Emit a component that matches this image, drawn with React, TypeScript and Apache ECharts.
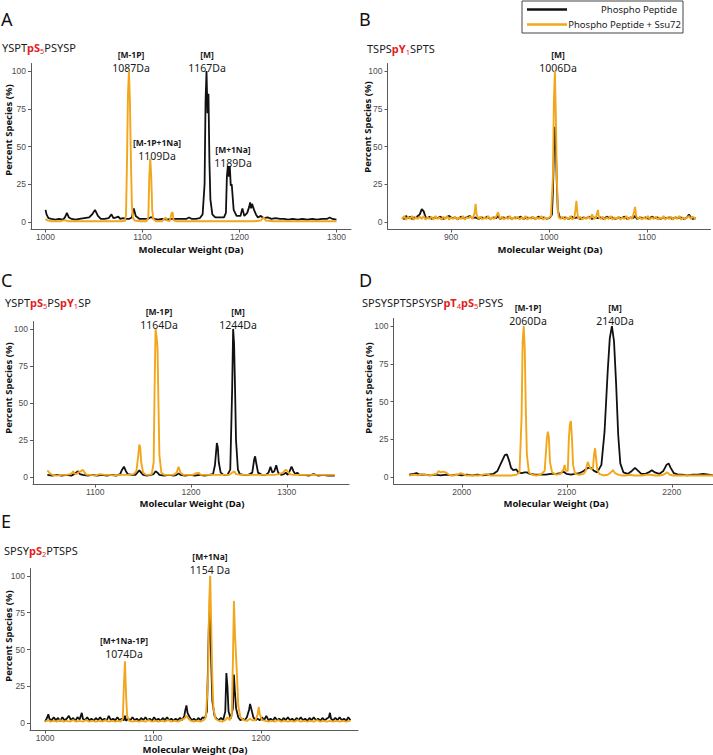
import React, { useEffect, useRef } from 'react';
import * as echarts from 'echarts';

// ---------- tick labels ----------
const aTicks = [1000, 1100, 1200, 1300];
const bTicks = [900, 1000, 1100];
const cTicks = [1100, 1200, 1300];
const dTicks = [2000, 2100, 2200];
const eTicks = [1000, 1100, 1200];
const yTicks = [0, 25, 50, 75, 100];

const legendNames = ['Phospho Peptide', 'Phospho Peptide + Ssu72'];

// ---------- Panel A: YSPTpS5PSYSP ----------
const aBlack = [
  [1000, 8], [1001, 5], [1003, 2.5], [1006, 2], [1010, 1.5], [1014, 2], [1018, 1.5], [1020, 3], [1022, 6], [1024, 3],
  [1027, 2], [1031, 1.5], [1035, 2], [1040, 2.5], [1045, 3], [1048, 5], [1051, 8], [1054, 4], [1057, 2], [1061, 2],
  [1065, 2.5], [1068, 5], [1070, 2.5], [1073, 3], [1075, 3.5], [1077, 2], [1080, 2.5], [1083, 2], [1086, 2], [1089, 3],
  [1091, 9], [1093, 4], [1097, 2], [1101, 2], [1105, 2], [1108, 3], [1110, 3], [1112, 2], [1116, 1.5], [1120, 2],
  [1125, 1.5], [1130, 2], [1135, 2], [1140, 2], [1145, 2], [1148, 3], [1151, 2], [1155, 2], [1159, 2.5], [1162, 5],
  [1164, 25], [1165, 80], [1166, 100], [1167, 72], [1168, 85], [1169, 40], [1170, 15], [1172, 5], [1175, 3], [1180, 3],
  [1184, 3], [1186, 6], [1187, 30], [1188, 37], [1189, 30], [1190, 37], [1191, 24], [1192, 25], [1194, 8], [1197, 4],
  [1201, 4], [1203, 9], [1205, 4], [1208, 6], [1210, 10], [1211, 13], [1212, 9], [1213, 12], [1215, 8], [1217, 5],
  [1219, 3], [1222, 4], [1225, 2.5], [1229, 3], [1233, 2], [1237, 2.5], [1242, 2], [1246, 2], [1250, 1.5], [1255, 2],
  [1260, 1.5], [1265, 2], [1270, 1.5], [1275, 2], [1280, 1.5], [1285, 2], [1290, 2], [1293, 3], [1296, 2], [1300, 1.5],
];
const aOrange = [
  [1000, 2], [1002, 1], [1005, 0.5], [1010, 0.5], [1015, 0.5], [1020, 1.2], [1023, 0.5], [1030, 0.5], [1040, 0.5], [1050, 0.5],
  [1060, 0.5], [1070, 0.5], [1078, 0.5], [1082, 0.8], [1083, 5], [1084, 40], [1085, 85], [1086, 100], [1087, 80], [1088, 42],
  [1089, 12], [1090, 3], [1092, 1], [1098, 0.5], [1104, 0.5], [1106, 3], [1107, 30], [1108, 42], [1109, 30], [1110, 8],
  [1111, 2], [1114, 0.5], [1120, 0.5], [1124, 3], [1125, 1], [1128, 0.5], [1130, 6], [1131, 6.5], [1132, 1], [1135, 0.5],
  [1145, 0.5], [1155, 0.5], [1165, 0.5], [1175, 0.5], [1185, 0.5], [1195, 0.5], [1205, 0.5], [1215, 0.5], [1222, 1], [1225, 3],
  [1227, 1], [1235, 0.5], [1245, 0.5], [1255, 0.5], [1265, 0.5], [1275, 0.5], [1285, 0.5], [1295, 0.5], [1300, 0.5],
];

// ---------- Panel B: TSPSpY1SPTS ----------
const bBlack = [
  [850, 3], [852, 2], [854, 4], [856, 2.5], [858, 3.5], [860, 2], [862, 3], [864, 2.5], [866, 4], [868, 5],
  [870, 8.5], [872, 7], [874, 3], [876, 2.5], [878, 3.5], [880, 2], [883, 3], [886, 2.5], [889, 3.5], [892, 2],
  [895, 3], [898, 4], [901, 2.5], [904, 3], [907, 2], [910, 3.5], [913, 2.5], [916, 3], [919, 4], [922, 2.5],
  [925, 3], [928, 2], [931, 3], [934, 2.5], [937, 3.5], [940, 2], [943, 3], [946, 2.5], [948, 4], [950, 2],
  [953, 3], [956, 2.5], [959, 3.5], [962, 2], [965, 3], [968, 2.5], [971, 3.5], [974, 2], [977, 3], [980, 2.5],
  [983, 3], [986, 2], [989, 3.5], [992, 2.5], [995, 3], [998, 2], [1001, 3], [1003, 5], [1004, 20], [1005, 45],
  [1006, 63], [1007, 50], [1008, 25], [1009, 8], [1011, 3], [1014, 2.5], [1017, 3], [1020, 2], [1023, 3.5], [1026, 2.5],
  [1029, 3], [1032, 2], [1035, 3], [1038, 2.5], [1041, 3.5], [1044, 2], [1047, 3], [1050, 2.5], [1053, 3], [1056, 2],
  [1059, 3.5], [1062, 2.5], [1065, 3], [1068, 2], [1071, 3], [1074, 2.5], [1077, 3.5], [1080, 2], [1083, 3], [1086, 2.5],
  [1088, 4], [1090, 2], [1093, 3], [1096, 2.5], [1099, 3], [1102, 2], [1105, 3.5], [1108, 2.5], [1111, 3], [1114, 2],
  [1117, 3], [1120, 2.5], [1123, 3], [1126, 2], [1129, 3], [1132, 2.5], [1135, 3], [1138, 2], [1141, 3], [1143, 5],
  [1145, 3], [1147, 2], [1150, 2.5],
];
const bOrange = [
  [850, 2], [852, 4], [854, 1.5], [856, 3.5], [858, 2], [860, 4], [862, 1.5], [864, 3], [866, 2], [868, 3.5],
  [870, 2], [872, 4], [874, 1.5], [876, 3], [878, 2], [880, 3.5], [882, 1.5], [884, 4], [886, 2], [888, 3],
  [890, 1.5], [892, 3.5], [894, 2], [896, 4], [898, 1.5], [900, 3], [902, 2], [904, 3.5], [906, 1.5], [908, 3],
  [910, 2], [912, 4], [914, 1.5], [916, 3], [918, 2.5], [920, 4], [922, 2], [924, 6], [925, 12], [926, 5],
  [928, 2], [930, 3.5], [932, 1.5], [934, 3], [936, 2], [938, 4], [940, 1.5], [942, 3], [944, 2], [946, 3.5],
  [948, 6.5], [950, 2], [952, 3.5], [954, 1.5], [956, 3], [958, 2], [960, 4], [962, 1.5], [964, 3], [966, 2],
  [968, 3.5], [970, 1.5], [972, 3], [974, 2], [976, 4], [978, 1.5], [980, 3], [982, 2], [984, 3.5], [986, 1.5],
  [988, 3], [990, 2], [992, 4], [994, 1.5], [996, 3], [998, 2], [1000, 3], [1002, 4], [1004, 30], [1005, 80],
  [1006, 100], [1007, 70], [1008, 30], [1009, 8], [1010, 3], [1012, 2], [1014, 3.5], [1016, 1.5], [1018, 3], [1020, 2],
  [1022, 4], [1024, 1.5], [1026, 3], [1027, 8], [1028, 14], [1029, 6], [1030, 2], [1032, 3.5], [1034, 1.5], [1036, 3],
  [1038, 2], [1040, 3.5], [1042, 2], [1044, 5], [1046, 2], [1048, 3], [1050, 8], [1051, 3], [1053, 2], [1055, 3.5],
  [1057, 1.5], [1059, 3], [1061, 2], [1063, 4], [1065, 1.5], [1067, 3], [1069, 2], [1071, 3.5], [1073, 1.5], [1075, 3],
  [1077, 2], [1079, 4], [1081, 1.5], [1083, 3], [1085, 2], [1087, 7], [1088, 10], [1089, 4], [1091, 2], [1093, 3.5],
  [1095, 1.5], [1097, 3], [1099, 2], [1101, 4], [1103, 1.5], [1105, 3], [1107, 2], [1109, 3.5], [1111, 1.5], [1113, 3],
  [1115, 2], [1117, 4], [1119, 1.5], [1121, 3], [1123, 2], [1125, 3.5], [1127, 1.5], [1129, 3], [1131, 2], [1133, 4],
  [1135, 1.5], [1137, 3], [1139, 2], [1141, 3], [1143, 4], [1145, 2], [1147, 3.5], [1150, 2],
];

// ---------- Panel C: YSPTpS5PSpY1SP ----------
const cBlack = [
  [1050, 1.5], [1055, 1], [1060, 1.5], [1065, 1], [1070, 1.5], [1075, 1], [1078, 2], [1080, 3], [1082, 4], [1084, 2],
  [1087, 1.5], [1092, 1], [1097, 1.5], [1102, 1], [1107, 1.5], [1112, 1], [1117, 1.5], [1122, 1], [1126, 2], [1128, 5],
  [1130, 7], [1132, 4], [1134, 2], [1138, 1.5], [1142, 1.5], [1144, 3], [1146, 4.5], [1148, 3], [1150, 1.5], [1154, 1],
  [1158, 1.5], [1161, 2], [1163, 4], [1165, 3], [1167, 1.5], [1172, 1], [1177, 1.5], [1182, 1], [1185, 1.5], [1187, 2.5],
  [1189, 1.5], [1194, 1], [1199, 1.5], [1204, 1], [1209, 1.5], [1214, 1], [1219, 1.5], [1223, 2], [1225, 8], [1227, 23],
  [1228, 20], [1229, 10], [1231, 3], [1234, 1.5], [1238, 1.5], [1241, 5], [1243, 60], [1244, 100], [1245, 90], [1246, 60],
  [1247, 25], [1249, 5], [1251, 2], [1255, 1.5], [1260, 1.5], [1264, 3], [1266, 12], [1267, 14], [1268, 10], [1270, 3],
  [1274, 1.5], [1278, 1.5], [1281, 3], [1283, 7], [1285, 3], [1287, 4], [1289, 8], [1291, 3], [1294, 1.5], [1297, 2],
  [1299, 3], [1301, 1.5], [1303, 4], [1305, 7], [1307, 4], [1309, 2], [1311, 3], [1313, 1.5], [1318, 1.5], [1323, 1],
  [1328, 2], [1333, 1], [1338, 1.5], [1343, 1], [1350, 1],
];
const cOrange = [
  [1050, 4.5], [1052, 3], [1055, 1.5], [1060, 1], [1065, 1.5], [1070, 1.5], [1074, 2], [1076, 3], [1077, 4], [1078, 2.5],
  [1080, 2], [1082, 3], [1085, 4], [1087, 5], [1089, 3], [1091, 1.5], [1095, 1.5], [1100, 1], [1105, 2], [1110, 1.5],
  [1115, 1.5], [1120, 1], [1125, 1.5], [1130, 1.5], [1135, 1.5], [1140, 2], [1143, 4], [1145, 15], [1146, 22], [1147, 20],
  [1148, 10], [1150, 3], [1153, 1.5], [1156, 1.5], [1159, 2], [1161, 10], [1162, 60], [1163, 100], [1164, 95], [1165, 88],
  [1166, 50], [1167, 15], [1169, 3], [1172, 1.5], [1177, 1.5], [1182, 1.5], [1185, 3], [1187, 7], [1189, 3], [1192, 1.5],
  [1197, 1.5], [1202, 1.5], [1205, 2.5], [1208, 3], [1210, 1.5], [1215, 1.5], [1220, 1.5], [1225, 1.5], [1230, 1.5], [1235, 1.5],
  [1240, 1.5], [1243, 3], [1245, 4], [1247, 2], [1252, 1.5], [1257, 1.5], [1262, 1.5], [1267, 1.5], [1272, 1.5], [1277, 1.5],
  [1282, 1.5], [1287, 1.5], [1292, 2], [1296, 3], [1299, 5], [1301, 4], [1303, 2], [1307, 1.5], [1312, 1.5], [1317, 1.5],
  [1322, 1.5], [1327, 1.5], [1332, 1.5], [1337, 1.5], [1342, 1.5], [1350, 1.5],
];

// ---------- Panel D: SPSYSPTSPSYSPpT4pS5PSYS ----------
const dBlack = [
  [1950, 1.5], [1954, 2], [1957, 2.5], [1960, 1.5], [1965, 1.5], [1970, 1], [1975, 1.5], [1980, 1], [1985, 1.5], [1990, 1],
  [1995, 1.5], [2000, 1], [2005, 1.5], [2010, 1], [2015, 1.5], [2020, 1], [2025, 1.5], [2030, 2], [2034, 4], [2038, 10],
  [2041, 14.5], [2043, 15], [2045, 11], [2047, 6], [2049, 4.5], [2052, 5], [2054, 3], [2057, 2.5], [2060, 3], [2062, 3],
  [2065, 2], [2070, 1.5], [2075, 1.5], [2080, 1.5], [2085, 2], [2090, 2], [2094, 2.5], [2097, 3.5], [2100, 2], [2104, 1.5],
  [2108, 2], [2112, 2.5], [2116, 4], [2120, 6], [2123, 6], [2126, 4], [2129, 3], [2133, 8], [2136, 30], [2139, 70],
  [2141, 92], [2143, 100], [2145, 90], [2147, 62], [2149, 28], [2151, 9], [2154, 3], [2158, 2], [2162, 4], [2165, 6],
  [2168, 4], [2171, 2], [2175, 2], [2178, 3], [2181, 4.5], [2184, 3], [2188, 2], [2192, 4], [2195, 8], [2197, 9],
  [2199, 6], [2202, 2.5], [2206, 1.5], [2210, 1.5], [2215, 1], [2220, 1.5], [2225, 1.5], [2230, 2], [2235, 1.5], [2240, 1],
  [2245, 1.5], [2250, 1],
];
const dOrange = [
  [1950, 1], [1955, 1.5], [1958, 1], [1962, 2], [1965, 1.5], [1968, 1], [1972, 1.5], [1976, 2], [1978, 4], [1980, 3],
  [1982, 3.5], [1985, 3], [1988, 1.5], [1992, 1], [1996, 1.5], [1999, 2.5], [2001, 2], [2004, 1], [2008, 1], [2012, 1],
  [2016, 1], [2020, 1.5], [2024, 2], [2027, 1], [2032, 1], [2037, 1], [2042, 1], [2047, 1], [2052, 1.5], [2055, 3],
  [2057, 40], [2058, 90], [2059, 100], [2060, 85], [2061, 45], [2062, 15], [2064, 3], [2067, 1.5], [2071, 1], [2075, 1.5],
  [2079, 4], [2081, 25], [2082, 30], [2083, 26], [2084, 10], [2086, 3], [2090, 1.5], [2094, 2], [2097, 5], [2098, 8],
  [2099, 4], [2101, 4], [2102, 25], [2103, 35], [2104, 37], [2105, 25], [2106, 8], [2108, 2], [2112, 1.5], [2116, 2],
  [2118, 4], [2120, 10], [2121, 8], [2123, 5], [2125, 6], [2126, 15], [2127, 19], [2128, 12], [2129, 5], [2131, 2],
  [2135, 1], [2139, 1.5], [2142, 3], [2144, 4.5], [2146, 2.5], [2149, 1.5], [2152, 1], [2156, 1], [2160, 1.5], [2164, 1],
  [2168, 1], [2172, 1], [2176, 1.5], [2180, 1.5], [2184, 1], [2188, 1], [2192, 1.5], [2196, 3], [2198, 1.5], [2202, 1],
  [2206, 1], [2210, 1], [2215, 1], [2220, 1], [2225, 1], [2230, 1], [2235, 1], [2240, 1], [2245, 1], [2250, 1],
];

// ---------- Panel E: SPSYpS2PTSPS ----------
const eBlack = [
  [1000, 1], [1002, 4], [1003, 6], [1004, 3], [1006, 2], [1008, 4], [1010, 2], [1012, 3.5], [1014, 1.5], [1016, 4],
  [1018, 2], [1020, 3], [1022, 5], [1024, 2], [1026, 3.5], [1028, 1.5], [1030, 4], [1032, 2.5], [1034, 7], [1035, 3],
  [1037, 2], [1039, 4], [1041, 2], [1043, 3], [1045, 1.5], [1047, 3.5], [1049, 2], [1051, 4], [1053, 2], [1055, 3],
  [1057, 1.5], [1059, 5], [1061, 2], [1063, 3], [1065, 2], [1067, 4], [1069, 2], [1071, 3], [1073, 2], [1074, 5],
  [1075, 1.5], [1077, 3], [1079, 2], [1081, 4], [1083, 2], [1085, 3], [1087, 1.5], [1089, 3.5], [1091, 2], [1093, 4],
  [1095, 2], [1097, 3], [1099, 1.5], [1101, 4], [1103, 2], [1105, 3], [1107, 1.5], [1109, 3.5], [1111, 2], [1113, 4],
  [1115, 2], [1117, 3], [1119, 1.5], [1121, 3], [1123, 2], [1125, 3.5], [1127, 2], [1129, 5], [1130, 9], [1131, 12],
  [1132, 7], [1134, 4], [1136, 2], [1138, 3], [1140, 1.5], [1142, 3.5], [1144, 2], [1146, 4], [1148, 3], [1150, 8],
  [1151, 40], [1152, 75], [1153, 70], [1154, 40], [1155, 15], [1157, 5], [1159, 3], [1161, 2], [1163, 3.5], [1165, 2],
  [1167, 8], [1168, 34], [1169, 25], [1170, 8], [1172, 3], [1174, 10], [1175, 33], [1176, 20], [1177, 10], [1179, 4],
  [1181, 2], [1183, 3], [1185, 2], [1187, 4], [1189, 9], [1190, 13], [1191, 10], [1193, 4], [1195, 2], [1197, 3],
  [1199, 2], [1201, 4], [1203, 2], [1205, 5], [1207, 2], [1209, 3], [1211, 1.5], [1213, 4], [1215, 2], [1217, 3],
  [1219, 1.5], [1221, 3.5], [1223, 2], [1225, 4], [1227, 2], [1229, 3], [1231, 1.5], [1233, 3.5], [1235, 2], [1237, 4],
  [1239, 2], [1241, 3], [1243, 1.5], [1245, 3.5], [1247, 2], [1249, 4], [1251, 2], [1253, 3], [1255, 1.5], [1257, 3.5],
  [1259, 2], [1261, 3], [1263, 4], [1264, 7], [1265, 3], [1267, 2], [1269, 3.5], [1271, 2], [1273, 4], [1275, 2],
  [1277, 3], [1279, 1.5], [1281, 4], [1283, 2],
];
const eOrange = [
  [1000, 1], [1003, 2], [1005, 1], [1008, 1.5], [1011, 1], [1014, 2], [1017, 1], [1020, 1.5], [1023, 1], [1026, 2],
  [1029, 1], [1032, 1.5], [1035, 1], [1038, 2], [1041, 1], [1044, 1.5], [1047, 1], [1050, 1.5], [1053, 1], [1056, 2],
  [1059, 1], [1062, 1.5], [1065, 1], [1068, 1.5], [1070, 1], [1072, 3], [1073, 25], [1074, 42], [1075, 20], [1076, 5],
  [1078, 1.5], [1081, 1], [1084, 1.5], [1087, 1], [1090, 1.5], [1093, 1], [1096, 2], [1099, 1], [1102, 1.5], [1105, 1],
  [1108, 1.5], [1111, 1], [1114, 2], [1117, 1], [1120, 1.5], [1123, 1], [1126, 2], [1129, 3], [1131, 5], [1133, 3],
  [1135, 1.5], [1138, 1], [1141, 1.5], [1144, 1], [1147, 2], [1149, 4], [1151, 30], [1152, 80], [1153, 100], [1154, 65],
  [1155, 30], [1156, 10], [1158, 3], [1161, 1.5], [1164, 1], [1167, 2], [1169, 4], [1171, 2], [1173, 5], [1174, 40],
  [1175, 83], [1176, 60], [1177, 45], [1178, 30], [1179, 12], [1181, 4], [1184, 2], [1187, 1.5], [1190, 3], [1192, 2],
  [1195, 2], [1197, 6], [1198, 11], [1199, 6], [1201, 2], [1204, 1.5], [1207, 1], [1210, 1.5], [1213, 1], [1216, 2],
  [1219, 1], [1222, 1.5], [1225, 1], [1228, 1.5], [1231, 1], [1234, 2], [1237, 1], [1240, 1.5], [1243, 1], [1246, 1.5],
  [1249, 1], [1252, 2], [1255, 1], [1258, 1.5], [1261, 1], [1264, 1.5], [1267, 1], [1270, 1.5], [1273, 1], [1276, 1.5],
  [1279, 1], [1283, 1.5],
];

const BLACK = '#111111';
const ORANGE = '#F2A61C';
const RED = '#E3211C';
const AXIS = '#5a5a5a';
const TICKLBL = '#4d4d4d';
const SANS = '"Noto Sans", "Open Sans", sans-serif';
const TICKFONT = '"Liberation Sans", Arial, sans-serif';

type Panel = {
  xRange: number[];
  ticks: number[];
  black: number[][];
  orange: number[][];
  grid: { left: number; top: number; width: number; height: number };
};

const panels: Panel[] = [
  { xRange: [985, 1315], ticks: aTicks, black: aBlack, orange: aOrange, grid: { left: 31, top: 63.5, width: 320, height: 166 } },
  { xRange: [835, 1165], ticks: bTicks, black: bBlack, orange: bOrange, grid: { left: 387.5, top: 63.5, width: 323, height: 166 } },
  { xRange: [1035, 1365], ticks: cTicks, black: cBlack, orange: cOrange, grid: { left: 33, top: 321.5, width: 316, height: 163 } },
  { xRange: [1935, 2265], ticks: dTicks, black: dBlack, orange: dOrange, grid: { left: 393.5, top: 318.5, width: 346.5, height: 166 } },
  { xRange: [986, 1290], ticks: eTicks, black: eBlack, orange: eOrange, grid: { left: 30, top: 568.5, width: 328, height: 162 } },
];

const richSeq = {
  n: { fontSize: 11, fontFamily: SANS, fill: '#1a1a1a', lineHeight: 14 },
  r: { fontSize: 11, fontFamily: SANS, fontWeight: 'bold', fill: RED, lineHeight: 14 },
  s: { fontSize: 7.5, fontFamily: SANS, fill: RED, lineHeight: 14, padding: [7, 0, 0, 0] },
};
const richPeak = {
  b: { fontSize: 8.5, fontFamily: SANS, fontWeight: 'bold', fill: '#1a1a1a', lineHeight: 12.5, align: 'center' },
  m: { fontSize: 10.5, fontFamily: SANS, fill: '#1a1a1a', lineHeight: 14, align: 'center' },
};

function seqText(x: number, y: number, text: string) {
  return {
    type: 'text', x, y,
    style: { text, align: 'left', verticalAlign: 'middle', rich: richSeq, fill: '#1a1a1a', font: `11px ${SANS}` },
  };
}
// two-line peak annotation: bold bracket label over mass label; y = centre of the bracket line
function peak(x: number, y: number, top: string, bottom: string) {
  return {
    type: 'text', x, y: y - 6.5,
    style: {
      text: `{b|${top}}\n{m|${bottom}}`, align: 'center', verticalAlign: 'top',
      rich: richPeak, fill: '#1a1a1a', font: `10.5px ${SANS}`,
    },
  };
}
function letter(x: number, y: number, text: string) {
  return { type: 'text', x, y, style: { text, align: 'left', verticalAlign: 'middle', fill: '#111', font: `18px ${SANS}` } };
}
function xTitle(x: number, y: number) {
  return { type: 'text', x, y, style: { text: 'Molecular Weight (Da)', align: 'center', verticalAlign: 'middle', fill: '#111', font: `bold 9.5px ${SANS}` } };
}
function yTitle(x: number, y: number) {
  return { type: 'text', x, y, rotation: Math.PI / 2, style: { text: 'Percent Species (%)', align: 'center', verticalAlign: 'middle', fill: '#111', font: `bold 9.5px ${SANS}` } };
}

export default function App() {
  const ref = useRef<HTMLDivElement>(null);
  useEffect(() => {
    if (!ref.current) return;
    const chart = echarts.init(ref.current, undefined, { renderer: 'svg' });

    const grid = panels.map((p) => ({ ...p.grid }));
    const xAxis = panels.map((p, i) => ({
      type: 'value', gridIndex: i, min: p.xRange[0], max: p.xRange[1],
      splitLine: { show: false },
      axisLine: { show: true, onZero: false, lineStyle: { color: AXIS, width: 1 } },
      axisTick: { show: true, length: 3, customValues: p.ticks, lineStyle: { color: AXIS } },
      axisLabel: {
        customValues: p.ticks, fontSize: 8.5, color: TICKLBL, margin: 2.5, fontFamily: TICKFONT,
        formatter: (v: number) => String(v),
      },
    }));
    const yAxis = panels.map((p, i) => ({
      type: 'value', gridIndex: i, min: -5, max: 105,
      splitLine: { show: false },
      axisLine: { show: true, onZero: false, lineStyle: { color: AXIS, width: 1 } },
      axisTick: { show: true, length: 3, customValues: yTicks, lineStyle: { color: AXIS } },
      axisLabel: {
        customValues: yTicks, fontSize: 8.5, color: TICKLBL, margin: 5, fontFamily: TICKFONT,
        formatter: (v: number) => String(v),
      },
    }));
    const series: any[] = [];
    panels.forEach((p, i) => {
      series.push({
        type: 'line', name: legendNames[0], xAxisIndex: i, yAxisIndex: i, data: p.black,
        symbol: 'none', showSymbol: false, lineStyle: { color: BLACK, width: 1.8 }, z: 2,
      });
      series.push({
        type: 'line', name: legendNames[1], xAxisIndex: i, yAxisIndex: i, data: p.orange,
        symbol: 'none', showSymbol: false, lineStyle: { color: ORANGE, width: 1.9 }, z: 3,
      });
    });

    const graphic: any[] = [
      // legend
      { type: 'rect', shape: { x: 522, y: 1, width: 161, height: 32 }, style: { fill: '#fff', stroke: '#444', lineWidth: 1 } },
      { type: 'line', shape: { x1: 527, y1: 9.5, x2: 567, y2: 9.5 }, style: { stroke: BLACK, lineWidth: 2.5 } },
      { type: 'line', shape: { x1: 527, y1: 24.5, x2: 567, y2: 24.5 }, style: { stroke: ORANGE, lineWidth: 2.5 } },
      { type: 'text', x: 677, y: 9.5, style: { text: legendNames[0], align: 'right', verticalAlign: 'middle', fill: '#222', font: `9.5px ${SANS}` } },
      { type: 'text', x: 681, y: 24.5, style: { text: legendNames[1], align: 'right', verticalAlign: 'middle', fill: '#222', font: `9.5px ${SANS}` } },
      // panel letters
      letter(1, 19, 'A'), letter(359, 19, 'B'), letter(1, 280, 'C'), letter(359, 280, 'D'), letter(1, 521, 'E'),
      // sequences
      seqText(2, 47, '{n|YSPT}{r|pS}{s|5}{n|PSYSP}'),
      seqText(367, 48, '{n|TSPS}{r|pY}{s|1}{n|SPTS}'),
      seqText(5, 302, '{n|YSPT}{r|pS}{s|5}{n|PS}{r|pY}{s|1}{n|SP}'),
      seqText(362, 302, '{n|SPSYSPTSPSYSP}{r|pT}{s|4}{r|pS}{s|5}{n|PSYS}'),
      seqText(4, 550, '{n|SPSY}{r|pS}{s|2}{n|PTSPS}'),
      // axis titles
      xTitle(191, 249), xTitle(550, 249), xTitle(192, 503), xTitle(556, 503), xTitle(195, 749.5),
      yTitle(8, 130), yTitle(367, 127), yTitle(8, 388), yTitle(368, 388), yTitle(8, 636),
      // annotations
      peak(131, 55, '[M-1P]', '1087Da'),
      peak(207, 55, '[M]', '1167Da'),
      peak(157, 143, '[M-1P+1Na]', '1109Da'),
      peak(233, 150, '[M+1Na]', '1189Da'),
      peak(558, 55, '[M]', '1006Da'),
      peak(159, 312, '[M-1P]', '1164Da'),
      peak(238, 312, '[M]', '1244Da'),
      peak(528, 308, '[M-1P]', '2060Da'),
      peak(615, 308, '[M]', '2140Da'),
      peak(124, 641, '[M+1Na-1P]', '1074Da'),
      peak(210, 557, '[M+1Na]', '1154 Da'),
    ];

    chart.setOption({
      animation: false,
      backgroundColor: '#ffffff',
      grid, xAxis, yAxis, series, graphic,
    } as any);
    return () => chart.dispose();
  }, []);

  return (
    <div style={{ position: 'fixed', left: 0, top: 0, width: 713, height: 755, overflow: 'hidden', background: '#fff' }}>
      <div ref={ref} style={{ width: 745, height: 755 }} />
    </div>
  );
}
